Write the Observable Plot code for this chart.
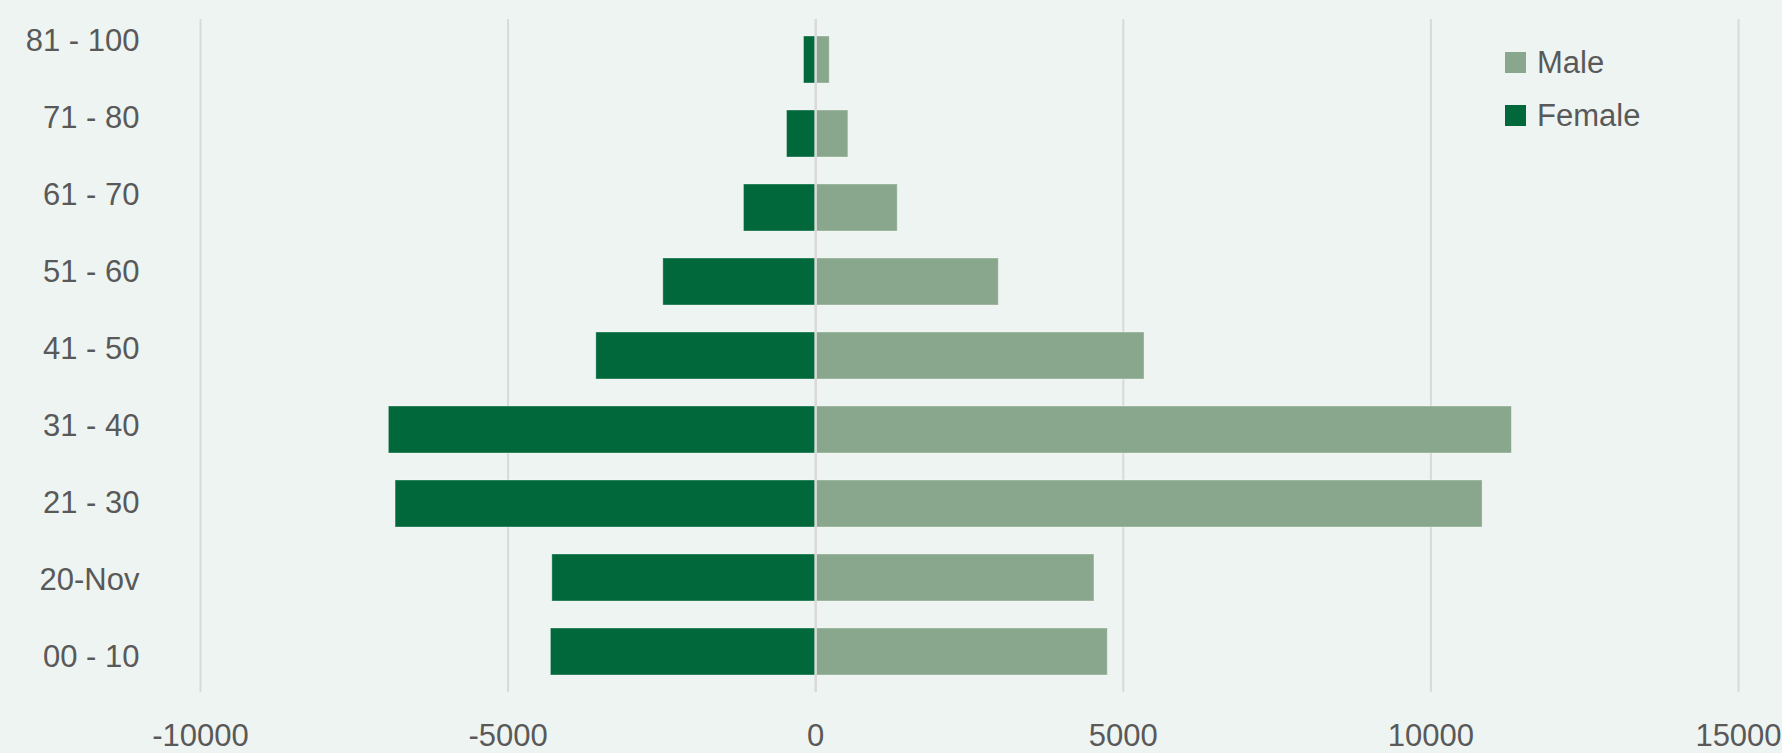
<!DOCTYPE html>
<html>
<head>
<meta charset="utf-8">
<script src="https://cdn.jsdelivr.net/npm/d3@7"></script>
<script src="https://cdn.jsdelivr.net/npm/@observablehq/plot@0.6"></script>
<style>
  html, body { margin: 0; padding: 0; background: #EEF4F1; }
  #wrap { position: relative; width: 1782px; height: 753px; overflow: hidden; background: #EEF4F1; }
  #wrap svg { position: absolute; left: 0; top: 0; }
  .legend { position: absolute; left: 1505px; font-family: "Liberation Sans", Arial, sans-serif; font-size: 31px; color: #595959; }
  .legend .item { position: absolute; left: 0; display: flex; align-items: center; white-space: nowrap; height: 21px; }
  .legend .sw { width: 21px; height: 21px; margin-right: 11px; flex: none; }
</style>
</head>
<body>
<div id="wrap"></div>
<script>
const ageGroups = ["00 - 10", "20-Nov", "21 - 30", "31 - 40", "41 - 50", "51 - 60", "61 - 70", "71 - 80", "81 - 100"];
const male = [4748, 4531, 10840, 11317, 5345, 2976, 1333, 531, 228];
const female = [-4304, -4281, -6829, -6938, -3566, -2477, -1166, -466, -190];
const xTicks = [-10000, -5000, 0, 5000, 10000, 15000];
const seriesNames = ["Male", "Female"];
const seriesColors = ["#89A78D", "#00683A"];

const rows = ageGroups.map((age, i) => ({age, male: male[i], female: female[i]}));
const fontStyle = {background: "transparent", fontFamily: "'Liberation Sans', Arial, sans-serif", fontSize: "31px", color: "#595959", overflow: "visible"};

const chart = Plot.plot({
  width: 1782,
  height: 753,
  marginLeft: 200,
  marginRight: 44,
  marginTop: 19,
  marginBottom: 61,
  style: fontStyle,
  x: {domain: [-10000, 15000], ticks: xTicks, label: null},
  y: {domain: ageGroups.slice().reverse(), paddingInner: 0.364, paddingOuter: 0.182, label: null, axis: null},
  marks: [
    Plot.ruleX(xTicks.filter(d => d !== 0), {stroke: "#d9d9d9", strokeWidth: 2, strokeOpacity: 1}),
    Plot.barX(rows, {y: "age", x1: 0, x2: "female", fill: seriesColors[1], stroke: "#ffffff", strokeOpacity: 0.35, strokeWidth: 1}),
    Plot.barX(rows, {y: "age", x1: 0, x2: "male", fill: seriesColors[0], stroke: "#ffffff", strokeOpacity: 0.35, strokeWidth: 1}),
    Plot.ruleX([0], {stroke: "#d9d9d9", strokeWidth: 2.5, strokeOpacity: 1}),
    Plot.axisX({ticks: xTicks, tickSize: 0, tickPadding: 31, tickFormat: d => String(d), fill: "#595959", label: null})
  ]
});

// category labels (the reference spaces its labels slightly wider than its bars)
const labels = Plot.plot({
  width: 1782,
  height: 753,
  marginLeft: 200,
  marginRight: 44,
  marginTop: 37,
  marginBottom: 93,
  style: fontStyle,
  x: {domain: [-10000, 15000], axis: null},
  y: {type: "point", domain: ageGroups.slice().reverse(), padding: 0, label: null},
  marks: [
    Plot.axisY({tickSize: 0, tickPadding: 61, fill: "#595959", label: null})
  ]
});

const wrap = document.getElementById("wrap");
wrap.appendChild(chart);
labels.style.pointerEvents = "none";
wrap.appendChild(labels);

const legend = document.createElement("div");
legend.className = "legend";
legend.style.top = "0px";
const legendTops = [52, 105];
seriesNames.forEach((name, i) => {
  const item = document.createElement("div");
  item.className = "item";
  item.style.top = legendTops[i] + "px";
  const sw = document.createElement("span");
  sw.className = "sw";
  sw.style.background = seriesColors[i];
  const label = document.createElement("span");
  label.textContent = name;
  item.appendChild(sw);
  item.appendChild(label);
  legend.appendChild(item);
});
wrap.appendChild(legend);
</script>
</body>
</html>
